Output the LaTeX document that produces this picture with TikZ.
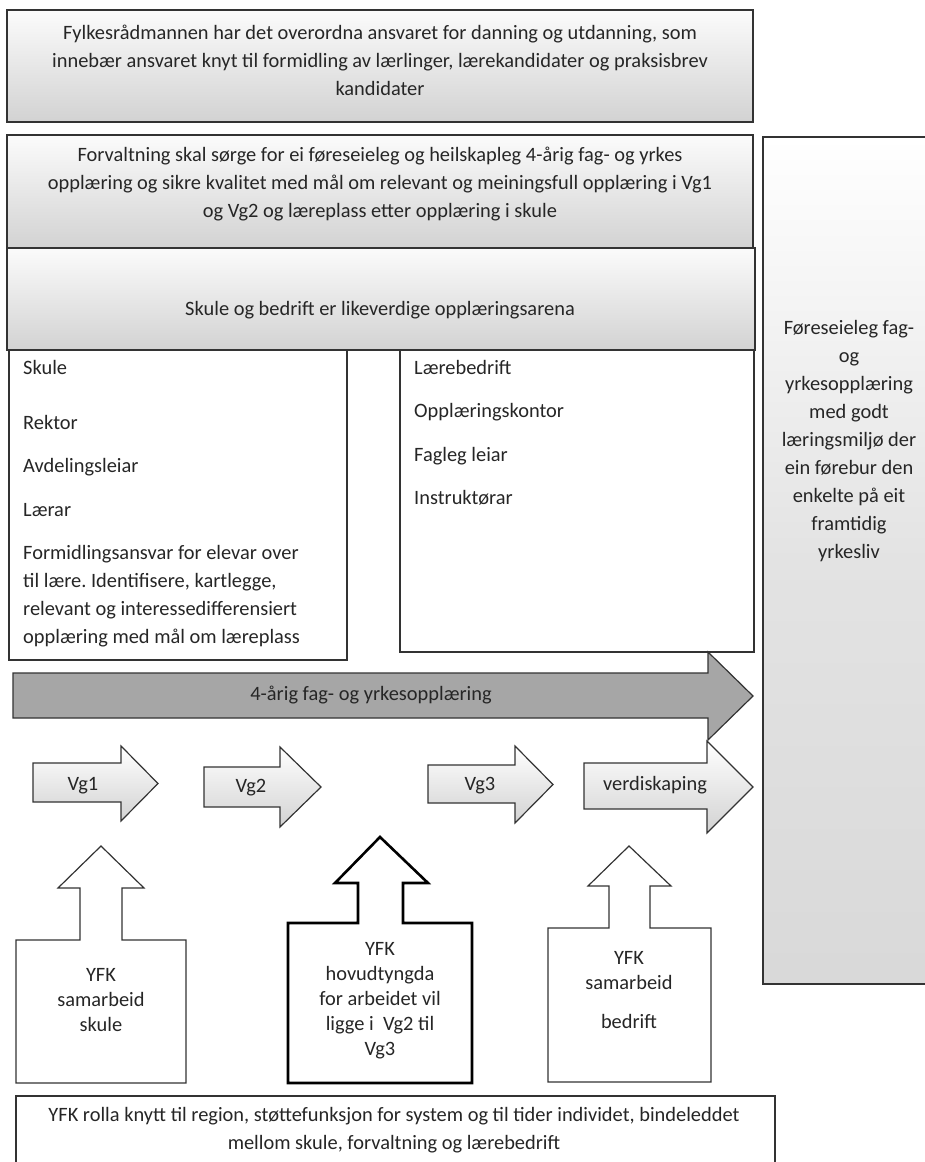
\documentclass[tikz,border=0pt]{standalone}
\usepackage{fontspec}
\setmainfont{Carlito}
\frenchspacing

\tikzstyle{greybox}=[draw=black!80,
    line width=1.2pt,
    top color=gray!3,
    bottom color=gray!35]
\tikzstyle{tallbox}=[draw=black!80,
    line width=1.2pt,
    top color=white,
    bottom color=gray!30,
    middle color=gray!22]
\tikzstyle{whitebox}=[draw=black!80, line width=1.2pt, fill=white]
\tikzstyle{bigarrow}=[draw=black!80, line width=1.2pt, fill=gray!70]
\tikzstyle{steparrow}=[draw=black!80, line width=1.2pt, top color=white, bottom color=gray!35]
\tikzstyle{uparrow}=[draw=black!80, line width=1.2pt, fill=white]
\tikzstyle{txt}=[inner sep=0pt, align=center, text=black!85, font=\fontsize{20.4}{28}\selectfont]
\tikzstyle{listtxt}=[inner sep=0pt, align=left, anchor=north west, text=black!85, font=\fontsize{20.4}{28}\selectfont]
\tikzstyle{smalltxt}=[txt, font=\fontsize{20.4}{25}\selectfont]

\begin{document}
\begin{tikzpicture}[x=1pt,y=-1pt]
    \useasboundingbox (0,0) rectangle (924,1162);

    % boxes on top
    \draw [greybox] (7,10) rectangle (753,122);
    \node (fylkesraad) [txt] at (380,60) {Fylkesrådmannen har det overordna ansvaret for danning og utdanning, som\\
        innebær ansvaret knyt til formidling av lærlinger, lærekandidater og praksisbrev\\ kandidater};
    \draw [greybox] (7,135) rectangle (753,248);
    \node (forvaltning) [txt] at (380,184.5) {Forvaltning skal sørge for ei føreseieleg og heilskapleg 4-årig fag- og yrkes\\
        opplæring og sikre kvalitet med mål om relevant og meiningsfull opplæring i Vg1\\
        og Vg2 og læreplass etter opplæring i skule};
    \draw [greybox] (7,248) rectangle (755,350);
    \node (likeverdig) [txt] at (380,310) {Skule og bedrift er likeverdige opplæringsarena};

    \draw [tallbox] (763,137) rectangle (940,984);
    \node (maal) [txt] at (849,441) {Føreseieleg fag-\\ og\\ yrkesopplæring\\ med godt\\ læringsmiljø der\\
        ein førebur den\\ enkelte på eit\\ framtidig\\ yrkesliv};

    % skule and bedrift
    \draw [whitebox] (9,350) rectangle (347,660);
    \node (skule) [listtxt] at (23,360) {Skule\\[27pt] Rektor\\[15.5pt] Avdelingsleiar\\[15.5pt] Lærar\\[15.5pt]
        Formidlingsansvar for elevar over\\ til lære. Identifisere, kartlegge,\\
        relevant og interessedifferensiert\\ opplæring med mål om læreplass};
    \draw [whitebox] (400,350) rectangle (754,652);
    \node (laerebedrift) [listtxt] at (414,360) {Lærebedrift\\[15.5pt] Opplæringskontor\\[15.5pt]
        Fagleg leiar\\[15.5pt] Instruktørar};

    % arrows
    \draw [bigarrow] (13,673) -- (708,673) -- (708,652) -- (753,696) -- (708,740) -- (708,718) -- (13,718) -- cycle;
    \node (fagopplaering) [txt] at (371,695) {4-årig fag- og yrkesopplæring};

    \draw [steparrow] (33,763) -- (121,763) -- (121,746) -- (158,783.5) -- (121,821) -- (121,802) -- (33,802) -- cycle;
    \node (vgone) [txt] at (83,786) {Vg1};
    \draw [steparrow] (204,767) -- (280,767) -- (280,747) -- (321,787) -- (280,827) -- (280,807) -- (204,807) -- cycle;
    \node (vgtwo) [txt] at (251,788) {Vg2};
    \draw [steparrow] (428,765) -- (515,765) -- (515,746) -- (553,784.5) -- (515,823) -- (515,803) -- (428,803) -- cycle;
    \node (vgthree) [txt] at (480,786) {Vg3};
    \draw [steparrow] (584,763) -- (707,763) -- (707,741) -- (753,787) -- (707,833) -- (707,809) -- (584,809) -- cycle;
    \node (verdiskaping) [txt] at (655,785) {verdiskaping};

    % YFK
    \draw [uparrow] (16,1083) -- (16,940) -- (80,940) -- (80,888) -- (58,888) -- (101,846) -- (144,888)
        -- (122,888) -- (122,940) -- (186,940) -- (186,1083) -- cycle;
    \node (yfkskule) [smalltxt] at (101,1000) {YFK\\ samarbeid\\ skule};
    \draw [uparrow, draw=black, line width=2.6pt] (288,1083) -- (288,923) -- (358,923) -- (358,883) -- (335,883)
        -- (380,837) -- (428,883) -- (403,883) -- (403,923) -- (472,923) -- (472,1083) -- cycle;
    \node (yfkhovud) [smalltxt] at (380,1001) {YFK\\ hovudtyngda\\ for arbeidet vil\\ ligge i~ Vg2 til\\ Vg3};
    \draw [uparrow] (548,1082) -- (548,928) -- (609,928) -- (609,886) -- (588,886) -- (629,846) -- (671,886)
        -- (650,886) -- (650,928) -- (711,928) -- (711,1082) -- cycle;
    \node (yfkbedrift) [smalltxt] at (629,990) {YFK\\ samarbeid\\[14pt] bedrift};

    \draw [whitebox] (16,1096) rectangle (775,1180);
    \node (yfkrolle) [txt] at (394,1130) {YFK rolla knytt til region, støttefunksjon for system og til tider individet, bindeleddet\\
        mellom skule, forvaltning og lærebedrift};
\end{tikzpicture}
\end{document}
